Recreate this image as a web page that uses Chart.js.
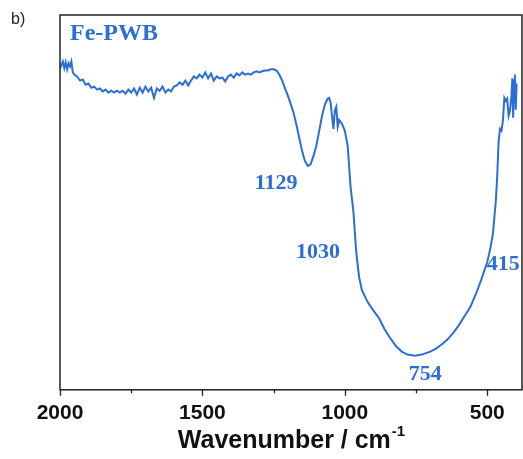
<!DOCTYPE html>
<html>
<head>
<meta charset="utf-8">
<script src="https://cdn.jsdelivr.net/npm/chart.js@4.4.1/dist/chart.umd.min.js"></script>
<style>
  html, body { margin: 0; padding: 0; background: #fff; }
  #wrap { width: 523px; height: 459px; position: relative; }
</style>
</head>
<body>
<div id="wrap"><canvas id="chart"></canvas></div>
<script>
// FT-IR spectrum of Fe-PWB
const wavenumbers = [
  2000, 1995, 1990, 1985, 1980, 1975, 1970, 1965, 1960, 1955, 1950, 1940, 1930, 1920, 1910,
  1900, 1890, 1880, 1870, 1860, 1850, 1840, 1830, 1820, 1810, 1800, 1790, 1780, 1770, 1760,
  1750, 1740, 1730, 1720, 1710, 1700, 1690, 1680, 1670, 1660, 1650, 1640, 1630, 1620, 1610,
  1600, 1590, 1580, 1570, 1560, 1550, 1540, 1530, 1520, 1510, 1500, 1490, 1480, 1470, 1460,
  1450, 1440, 1430, 1420, 1410, 1400, 1390, 1380, 1370, 1360, 1350, 1340, 1330, 1320, 1310,
  1300, 1290, 1280, 1270, 1260, 1250, 1240, 1230, 1220, 1210, 1200, 1190, 1180, 1170, 1160,
  1150, 1140, 1129, 1120, 1110, 1100, 1090, 1080, 1070, 1060, 1055, 1050, 1045, 1040, 1035,
  1030, 1025, 1020, 1010, 1000, 990, 980, 970, 960, 950, 940, 920, 900, 880, 860,
  840, 820, 800, 780, 754, 730, 700, 680, 660, 640, 620, 600, 580, 560, 540,
  520, 500, 490, 480, 470, 465, 460, 455, 450, 445, 440, 435, 430, 425, 420,
  415, 412, 409, 406, 403, 400, 397
];
const transmittance = [
  85.8, 86.6, 87.6, 85.8, 87.4, 85.5, 87.1, 86.3, 87.6, 84.7, 84.1, 83.6, 82.5, 82.8, 81.4,
  81.7, 80.6, 80.9, 80.1, 80.4, 79.6, 80.1, 79.3, 79.8, 79.3, 79.8, 79.3, 79.8, 79.0, 80.1,
  79.3, 80.4, 78.8, 80.6, 79.3, 80.9, 79.6, 80.6, 77.9, 80.4, 79.8, 80.9, 79.3, 80.1, 79.6,
  80.9, 81.2, 82.0, 81.4, 82.5, 81.2, 82.5, 83.6, 83.1, 84.1, 83.3, 84.7, 83.1, 84.4, 82.5,
  83.6, 83.1, 83.3, 82.3, 83.6, 84.1, 83.3, 84.4, 83.9, 84.7, 84.1, 84.4, 84.1, 84.7, 85.0,
  84.7, 85.0, 85.2, 85.2, 85.5, 85.5, 85.2, 84.1, 82.5, 80.4, 78.5, 76.3, 73.9, 70.7, 67.2,
  63.7, 61.0, 59.7, 60.2, 62.4, 65.1, 69.1, 73.1, 76.1, 77.7, 77.9, 76.6, 73.1, 69.6, 74.5,
  75.5, 70.2, 72.0, 71.0, 69.1, 65.1, 54.3, 47.6, 36.8, 30.1, 26.6, 23.4, 21.2, 19.1, 16.1,
  13.7, 11.6, 10.2, 9.4, 9.1, 9.4, 10.2, 11.0, 12.1, 13.4, 15.1, 17.2, 19.6, 22.0, 25.5,
  29.6, 34.1, 37.4, 41.7, 50.3, 57.0, 66.4, 69.6, 69.1, 71.8, 77.9, 77.1, 77.7, 73.1, 74.5,
  78.5, 83.1, 72.6, 82.5, 84.1, 74.7, 81.7
];
const majorTicks = [2000, 1500, 1000, 500];
const minorTicks = [1750, 1250, 750];
const peakLabels = ['1129', '1030', '754', '415'];
const peakLabelX = [1241, 1094, 718, 444];
const peakLabelY = [55.1, 36.8, 4.0, 33.6];

const BLUE = '#2b6fd6';

const decorPlugin = {
  id: 'decor',
  afterDraw(chart) {
    const { ctx, chartArea: a, scales: { x, y } } = chart;
    ctx.save();
    // frame
    ctx.strokeStyle = '#222';
    ctx.lineWidth = 1.5;
    ctx.strokeRect(a.left, a.top, a.right - a.left, a.bottom - a.top);
    // tick marks
    ctx.lineWidth = 1.3;
    majorTicks.forEach(v => {
      const px = Math.round(x.getPixelForValue(v)) + 0.5;
      ctx.beginPath(); ctx.moveTo(px, a.bottom); ctx.lineTo(px, a.bottom + 6); ctx.stroke();
    });
    minorTicks.forEach(v => {
      const px = Math.round(x.getPixelForValue(v)) + 0.5;
      ctx.beginPath(); ctx.moveTo(px, a.bottom); ctx.lineTo(px, a.bottom + 3.5); ctx.stroke();
    });
    // peak labels
    ctx.fillStyle = BLUE;
    ctx.font = 'bold 22px "Liberation Serif", "Times New Roman", serif';
    ctx.textAlign = 'center';
    ctx.textBaseline = 'middle';
    peakLabels.forEach((t, i) => {
      ctx.fillText(t, x.getPixelForValue(peakLabelX[i]), y.getPixelForValue(peakLabelY[i]));
    });
    // sample name
    ctx.font = 'bold 24px "Liberation Serif", "Times New Roman", serif';
    ctx.textAlign = 'left';
    ctx.fillText('Fe-PWB', a.left + 10, a.top + 19);
    // panel letter
    ctx.fillStyle = '#222';
    ctx.font = '16px "Liberation Sans", Arial, sans-serif';
    ctx.fillText('b)', 11, 20);
    // axis title with superscript
    ctx.fillStyle = '#111';
    ctx.textBaseline = 'alphabetic';
    ctx.font = 'bold 25px "Liberation Sans", Arial, sans-serif';
    const main = 'Wavenumber / cm';
    const mw = ctx.measureText(main).width;
    ctx.font = 'bold 15px "Liberation Sans", Arial, sans-serif';
    const sw = ctx.measureText('-1').width;
    const cx = (a.left + a.right) / 2;
    const x0 = cx - (mw + sw) / 2;
    ctx.font = 'bold 25px "Liberation Sans", Arial, sans-serif';
    ctx.fillText(main, x0, 448);
    ctx.font = 'bold 15px "Liberation Sans", Arial, sans-serif';
    ctx.fillText('-1', x0 + mw + 1, 436);
    ctx.restore();
  }
};

const points = wavenumbers.map((w, i) => ({ x: w, y: transmittance[i] }));

new Chart(document.getElementById('chart'), {
  type: 'line',
  data: {
    datasets: [{
      data: points,
      borderColor: BLUE,
      borderWidth: 2,
      pointRadius: 0,
      tension: 0,
      fill: false
    }]
  },
  options: {
    responsive: true,
    maintainAspectRatio: false,
    animation: false,
    layout: { padding: { left: 60, top: 15, right: 1, bottom: 22 } },
    plugins: { legend: { display: false }, tooltip: { enabled: false } },
    scales: {
      x: {
        type: 'linear',
        reverse: true,
        min: 378,
        max: 2000,
        grid: { display: false, drawTicks: false },
        border: { display: false },
        afterBuildTicks: (scale) => { scale.ticks = majorTicks.map(v => ({ value: v })); },
        ticks: {
          padding: 11,
          color: '#111',
          callback: (v) => String(v),
          font: { family: '"Liberation Sans", Arial, sans-serif', size: 21, weight: 'bold' }
        }
      },
      y: {
        display: false,
        min: 0,
        max: 100
      }
    }
  },
  plugins: [decorPlugin]
});
</script>
</body>
</html>
